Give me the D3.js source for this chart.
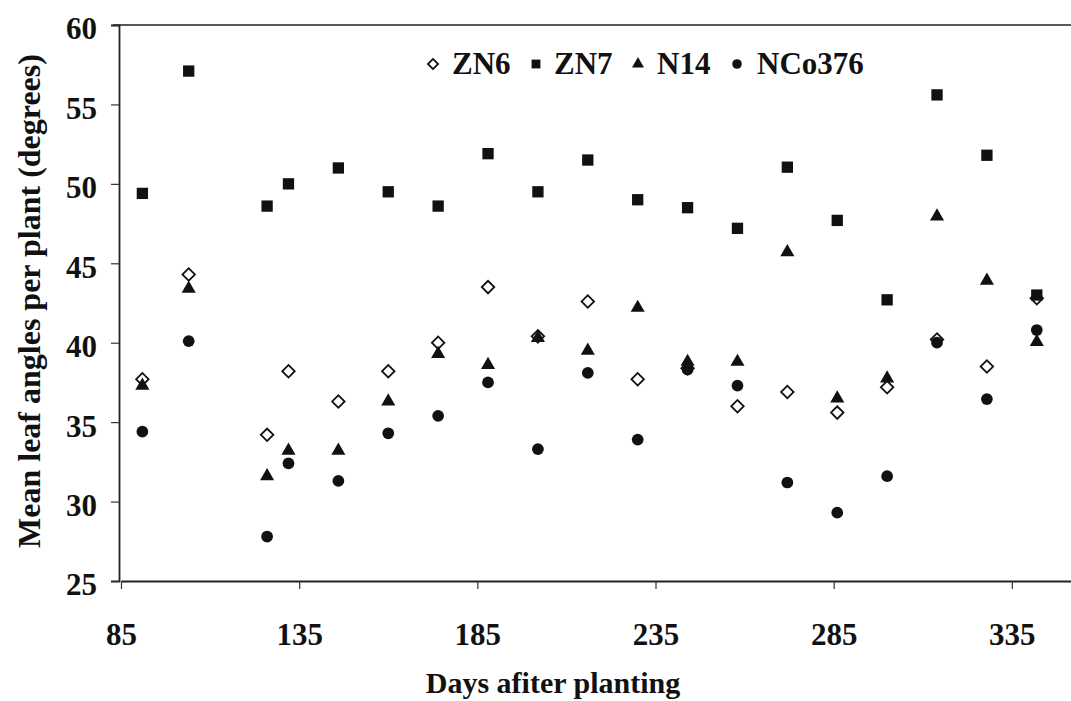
<!DOCTYPE html>
<html>
<head>
<meta charset="utf-8">
<script src="https://cdn.jsdelivr.net/npm/d3@7"></script>
<style>
  html, body { margin: 0; padding: 0; background: #fff; }
  svg text { font-family: "Liberation Serif", "Times New Roman", serif; font-weight: bold; fill: #111; }
</style>
</head>
<body>
<svg id="chart" width="1071" height="701"></svg>
<script>
// Sampling dates (days after planting)
const days = [91, 104, 126, 132, 146, 160, 174, 188, 202, 216, 230, 244, 258, 272, 286, 300, 314, 328, 342];

// Mean leaf angle per plant (degrees) for each variety
const zn6    = [37.7, 44.3, 34.2, 38.2, 36.3, 38.2, 40.0, 43.5, 40.4, 42.6, 37.7, 38.4, 36.0, 36.9, 35.6, 37.2, 40.2, 38.5, 42.8];
const zn7    = [49.4, 57.1, 48.6, 50.0, 51.0, 49.5, 48.6, 51.9, 49.5, 51.5, 49.0, 48.5, 47.2, 51.05, 47.7, 42.7, 55.6, 51.8, 43.0];
const n14    = [37.3, 43.4, 31.6, 33.2, 33.2, 36.3, 39.3, 38.6, 40.3, 39.5, 42.2, 38.8, 38.8, 45.7, 36.5, 37.75, 47.95, 43.9, 40.05];
const nco376 = [34.4, 40.1, 27.8, 32.4, 31.3, 34.3, 35.4, 37.5, 33.3, 38.1, 33.9, 38.3, 37.3, 31.2, 29.3, 31.6, 40.0, 36.45, 40.8];

const seriesNames = ["ZN6", "ZN7", "N14", "NCo376"];
const xTicks = [85, 135, 185, 235, 285, 335];
const yTicks = [25, 30, 35, 40, 45, 50, 55, 60];

const svg = d3.select("#chart");

const x = d3.scaleLinear().domain([85, 351.6]).range([121, 1071]);
const y = d3.scaleLinear().domain([25, 60]).range([581, 25]);

// marker styles per series
const markers = {
  ZN6:    { type: d3.symbolSquare,   size: 78,  rotate: 45, fill: "#fff", stroke: "#111", sw: 1.8 },
  ZN7:    { type: d3.symbolSquare,   size: 128, rotate: 0,  fill: "#111", stroke: "none", sw: 0 },
  N14:    { type: d3.symbolTriangle, size: 86,  rotate: 0,  fill: "#111", stroke: "none", sw: 0 },
  NCo376: { type: d3.symbolCircle,   size: 108, rotate: 0,  fill: "#111", stroke: "none", sw: 0 }
};
const legendSizes = { ZN6: 52, ZN7: 78, N14: 62, NCo376: 72 };

const seriesData = [
  { name: "ZN6", values: zn6 },
  { name: "ZN7", values: zn7 },
  { name: "N14", values: n14 },
  { name: "NCo376", values: nco376 }
];

// frame: top line
svg.append("line")
  .attr("x1", x(85) - 8).attr("x2", 1071)
  .attr("y1", y(60)).attr("y2", y(60))
  .attr("stroke", "#222").attr("stroke-width", 1.6);

// y axis
const yAxis = d3.axisLeft(y).tickValues(yTicks).tickSize(8).tickPadding(14).tickFormat(d3.format("d"));
const gy = svg.append("g").attr("transform", `translate(${x(85) - 2},0)`).call(yAxis);
gy.select(".domain").attr("stroke", "#222").attr("stroke-width", 1.8);
gy.selectAll(".tick line").attr("stroke", "#333").attr("stroke-width", 1.2);
gy.selectAll(".tick text").attr("font-size", 31).attr("dy", "0.45em").attr("fill", "#111");

// x axis
const xAxis = d3.axisBottom(x).tickValues(xTicks).tickSize(8).tickSizeOuter(0).tickPadding(34).tickFormat(d3.format("d"));
const gx = svg.append("g").attr("transform", `translate(0,${y(25)})`).call(xAxis);
gx.select(".domain").attr("stroke", "#222").attr("stroke-width", 1.8);
gx.selectAll(".tick line").attr("stroke", "#333").attr("stroke-width", 1.2);
gx.selectAll(".tick text").attr("font-size", 31).attr("fill", "#111");

// axis titles
svg.append("text")
  .attr("x", 553).attr("y", 693)
  .attr("text-anchor", "middle")
  .attr("font-size", 30)
  .text("Days afiter planting");

svg.append("text")
  .attr("transform", "translate(40,301) rotate(-90)")
  .attr("text-anchor", "middle")
  .attr("font-size", 32)
  .text("Mean leaf angles per plant (degrees)");

// data markers
seriesData.forEach(s => {
  const m = markers[s.name];
  const sym = d3.symbol().type(m.type).size(m.size);
  svg.append("g").attr("class", "series-" + s.name)
    .selectAll("path")
    .data(s.values.map((v, i) => ({ day: days[i], value: v })))
    .join("path")
    .attr("d", sym)
    .attr("transform", d => `translate(${x(d.day)},${y(d.value)}) rotate(${m.rotate})`)
    .attr("fill", m.fill)
    .attr("stroke", m.stroke)
    .attr("stroke-width", m.sw);
});

// legend
const legendItems = [
  { name: "ZN6", mx: 433, tx: 452 },
  { name: "ZN7", mx: 536, tx: 554 },
  { name: "N14", mx: 638, tx: 657 },
  { name: "NCo376", mx: 737, tx: 757 }
];
const lg = svg.append("g").attr("class", "legend");
legendItems.forEach(it => {
  const m = markers[it.name];
  lg.append("path")
    .attr("d", d3.symbol().type(m.type).size(legendSizes[it.name]))
    .attr("transform", `translate(${it.mx},64) rotate(${m.rotate})`)
    .attr("fill", m.fill).attr("stroke", m.stroke).attr("stroke-width", m.sw);
  lg.append("text")
    .attr("x", it.tx).attr("y", 74)
    .attr("font-size", 31)
    .text(it.name);
});
</script>
</body>
</html>
